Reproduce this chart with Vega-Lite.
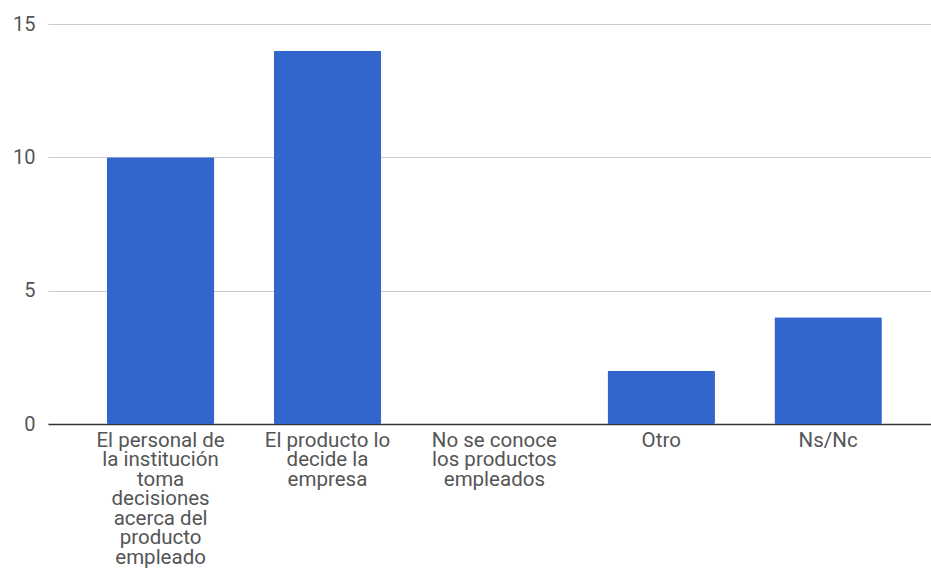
{
  "$schema": "https://vega.github.io/schema/vega-lite/v6.json",
  "autosize": {"type": "none"},
  "width": 883,
  "height": 400,
  "padding": {"left": 48, "top": 24, "right": 0, "bottom": 147},
  "background": "white",
  "data": {
    "values": [
      {"categoria": "El personal de|la institución|toma|decisiones|acerca del|producto|empleado", "valor": 10},
      {"categoria": "El producto lo|decide la|empresa", "valor": 14},
      {"categoria": "No se conoce|los productos|empleados", "valor": 0},
      {"categoria": "Otro", "valor": 2},
      {"categoria": "Ns/Nc", "valor": 4}
    ]
  },
  "mark": {"type": "bar", "color": "#3366cc", "cornerRadius": 1.5},
  "encoding": {
    "x": {
      "field": "categoria",
      "type": "nominal",
      "sort": null,
      "scale": {"paddingInner": 0.356, "paddingOuter": 0.3235, "align": 0.545},
      "axis": {
        "title": null,
        "labelAngle": 0,
        "labelExpr": "split(datum.value, '|')",
        "labelFont": "Roboto",
        "labelFontSize": 20.5,
        "labelLineHeight": 19.5,
        "labelColor": "#555555",
        "labelPadding": 6,
        "labelLimit": 0,
        "ticks": false,
        "domainColor": "#333333",
        "domainWidth": 1.5,
        "grid": false
      }
    },
    "y": {
      "field": "valor",
      "type": "quantitative",
      "scale": {"domain": [0, 15], "nice": false},
      "axis": {
        "title": null,
        "values": [0, 5, 10, 15],
        "labelFont": "Roboto",
        "labelFontSize": 20,
        "labelColor": "#555555",
        "labelPadding": 13,
        "ticks": false,
        "domain": false,
        "gridColor": "#cccccc",
        "gridWidth": 1
      }
    }
  },
  "config": {"view": {"stroke": null}}
}
